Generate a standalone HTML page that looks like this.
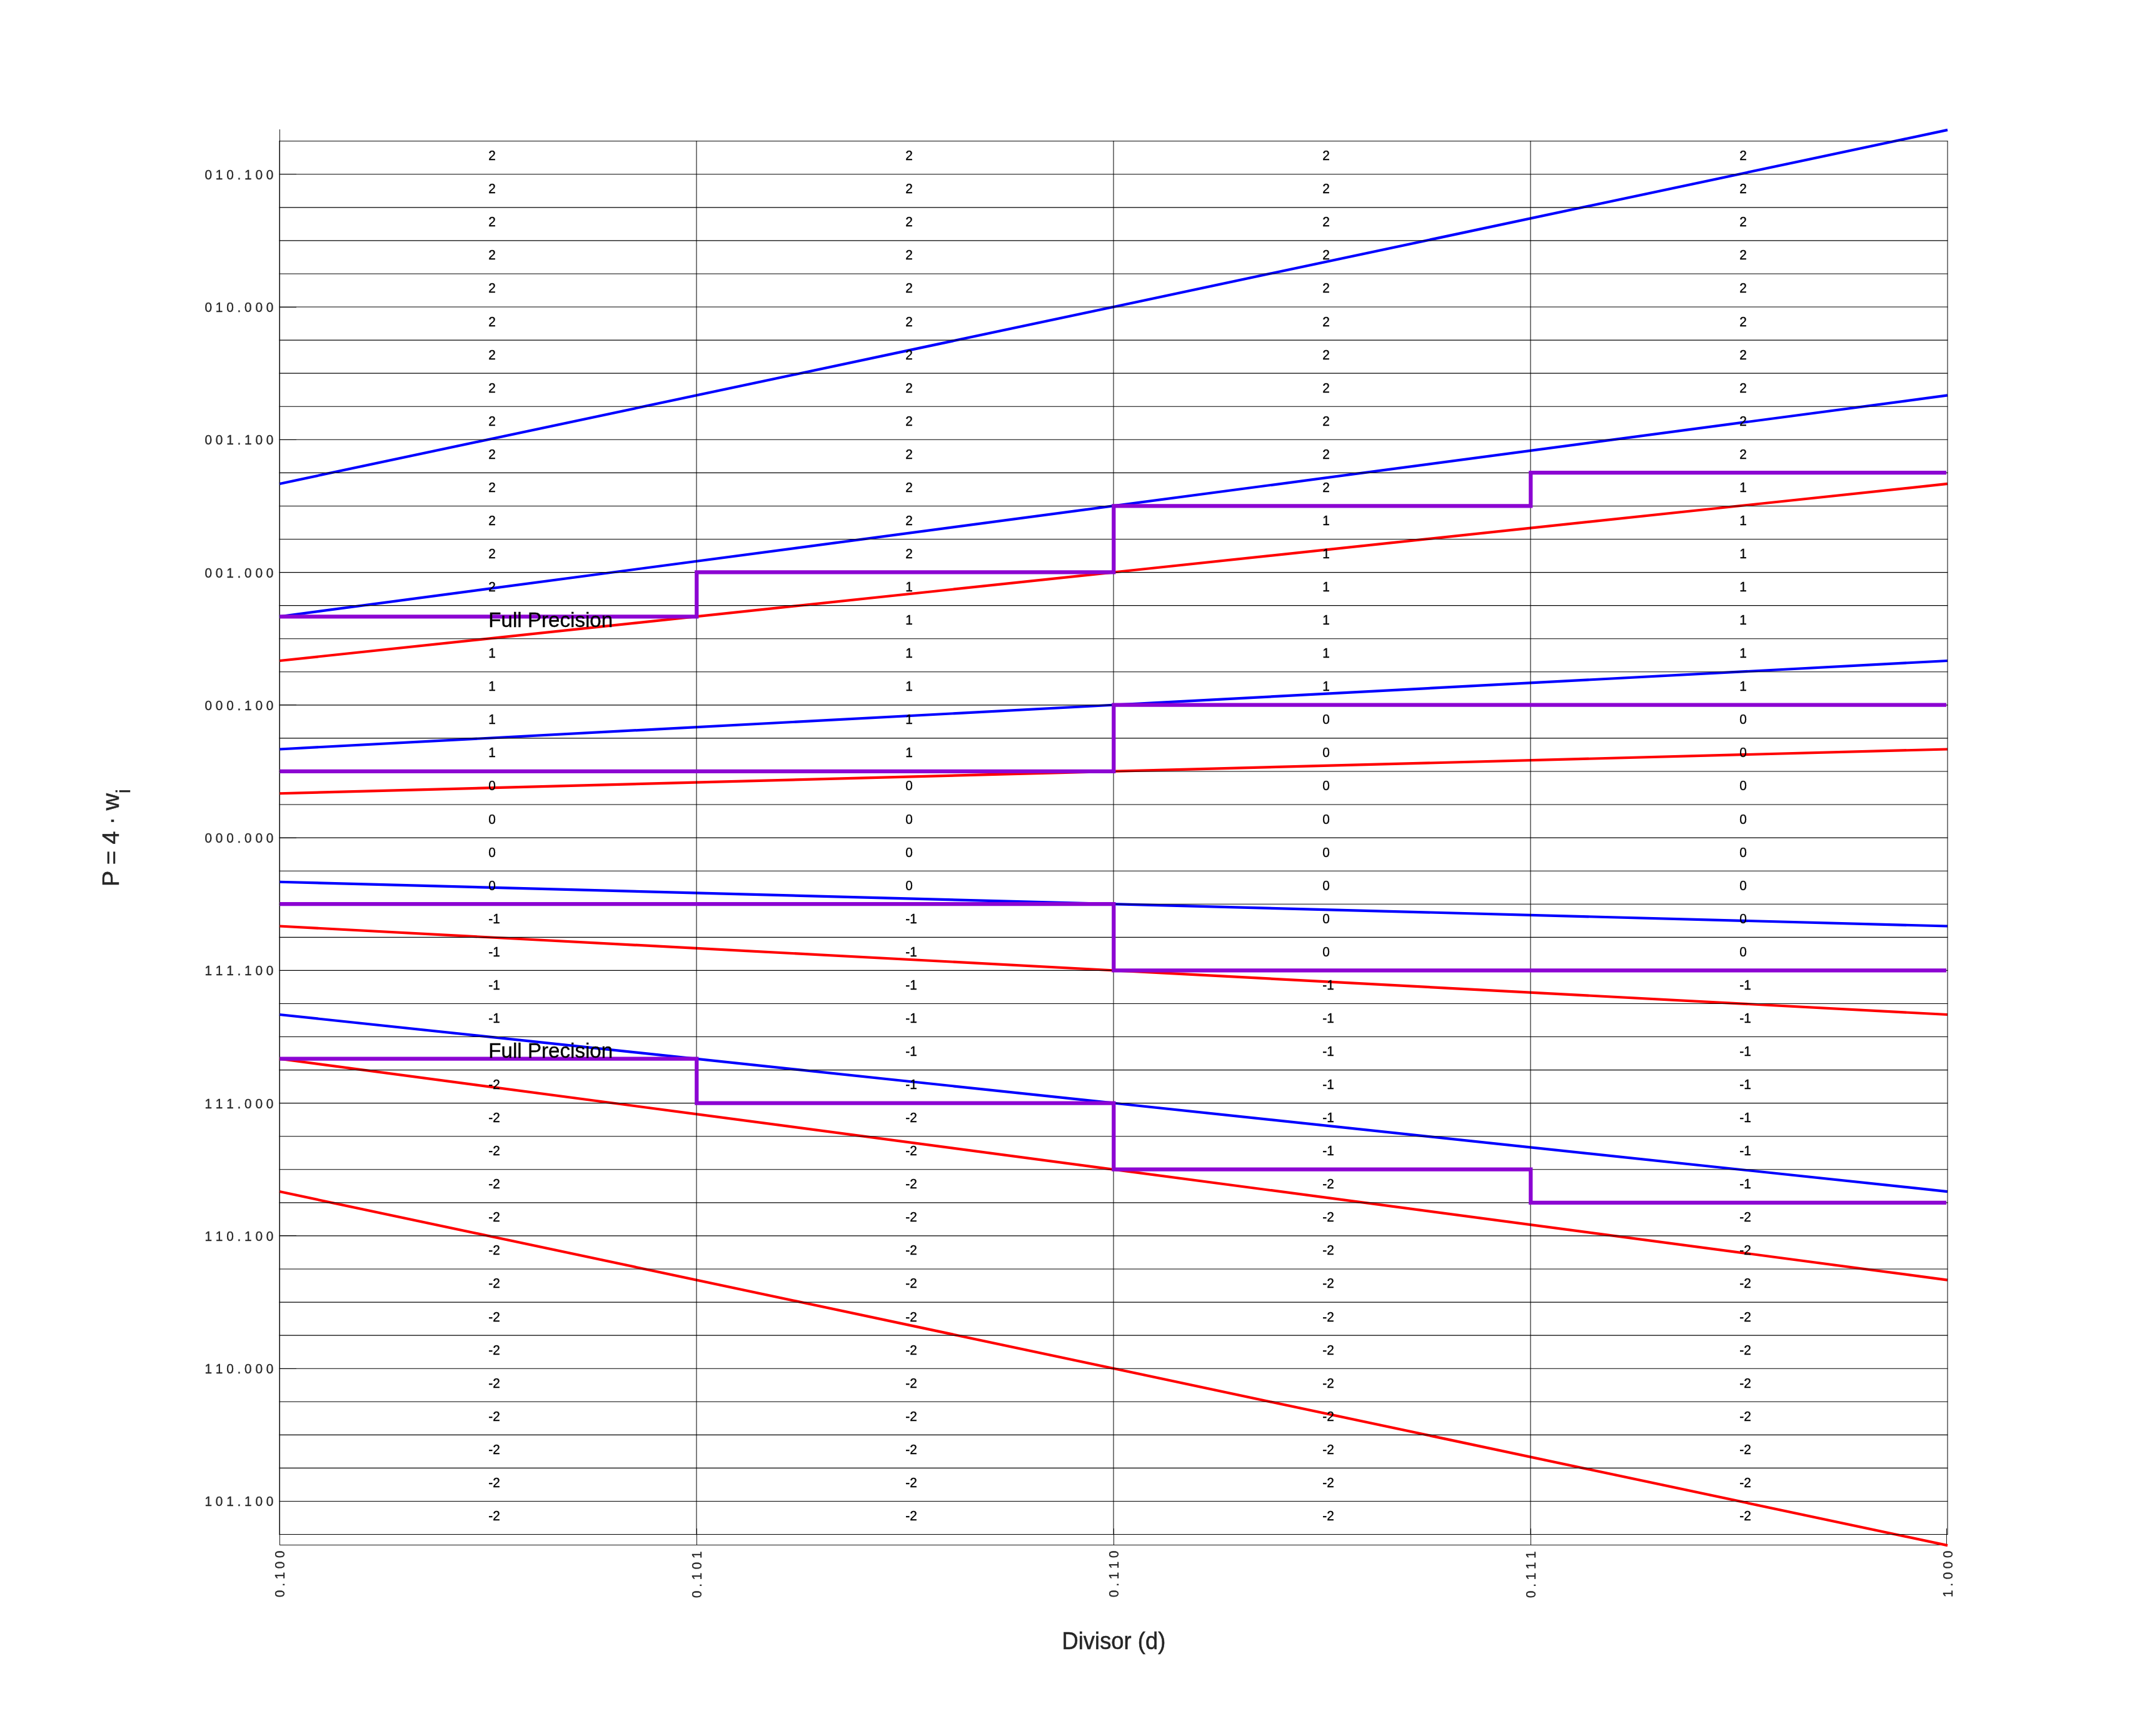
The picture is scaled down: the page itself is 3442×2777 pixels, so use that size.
<!DOCTYPE html>
<html lang="en"><head><meta charset="utf-8"><title>P-D diagram</title>
<style>html,body{margin:0;padding:0;background:#fff}svg{display:block;will-change:transform}text{font-family:"Liberation Sans",Arial,Helvetica,sans-serif}</style></head><body>
<svg width="3442" height="2777" viewBox="0 0 3442 2777">
<rect width="3442" height="2777" fill="#fff"/>
<g stroke="#1a1a1a" stroke-width="1" fill="none">
<line x1="447.5" y1="207" x2="447.5" y2="2472"/>
<line x1="447" y1="2471.5" x2="3114" y2="2471.5"/>
<line x1="447.5" y1="2445" x2="447.5" y2="2472"/>
<line x1="1114.5" y1="2445" x2="1114.5" y2="2472"/>
<line x1="1781.5" y1="2445" x2="1781.5" y2="2472"/>
<line x1="2448.5" y1="2445" x2="2448.5" y2="2472"/>
<line x1="3113.5" y1="2445" x2="3113.5" y2="2472"/>
<line x1="447" y1="2401.5" x2="474" y2="2401.5"/>
<line x1="447" y1="2189.5" x2="474" y2="2189.5"/>
<line x1="447" y1="1976.5" x2="474" y2="1976.5"/>
<line x1="447" y1="1764.5" x2="474" y2="1764.5"/>
<line x1="447" y1="1552.5" x2="474" y2="1552.5"/>
<line x1="447" y1="1340.5" x2="474" y2="1340.5"/>
<line x1="447" y1="1127.5" x2="474" y2="1127.5"/>
<line x1="447" y1="915.5" x2="474" y2="915.5"/>
<line x1="447" y1="703.5" x2="474" y2="703.5"/>
<line x1="447" y1="491.5" x2="474" y2="491.5"/>
<line x1="447" y1="278.5" x2="474" y2="278.5"/>
</g>
<g fill="none" stroke-width="4.17" stroke-linecap="butt">
<line x1="447.00" y1="1623.03" x2="3115.00" y2="1906.07" stroke="#0000ff"/>
<line x1="447.00" y1="1906.07" x2="3115.00" y2="2472.13" stroke="#ff0000"/>
<line x1="447.00" y1="1410.76" x2="3115.00" y2="1481.52" stroke="#0000ff"/>
<line x1="447.00" y1="1693.79" x2="3115.00" y2="2047.58" stroke="#ff0000"/>
<line x1="447.00" y1="1198.48" x2="3115.00" y2="1056.97" stroke="#0000ff"/>
<line x1="447.00" y1="1481.52" x2="3115.00" y2="1623.03" stroke="#ff0000"/>
<line x1="447.00" y1="986.21" x2="3115.00" y2="632.42" stroke="#0000ff"/>
<line x1="447.00" y1="1269.24" x2="3115.00" y2="1198.48" stroke="#ff0000"/>
<line x1="447.00" y1="773.93" x2="3115.00" y2="207.87" stroke="#0000ff"/>
<line x1="447.00" y1="1056.97" x2="3115.00" y2="773.93" stroke="#ff0000"/>
</g>
<g stroke="#000" stroke-width="1.12" fill="none">
<line x1="446.60" y1="2454.54" x2="3115.25" y2="2454.54"/>
<line x1="446.60" y1="2401.47" x2="3115.25" y2="2401.47"/>
<line x1="446.60" y1="2348.40" x2="3115.25" y2="2348.40"/>
<line x1="446.60" y1="2295.34" x2="3115.25" y2="2295.34"/>
<line x1="446.60" y1="2242.27" x2="3115.25" y2="2242.27"/>
<line x1="446.60" y1="2189.20" x2="3115.25" y2="2189.20"/>
<line x1="446.60" y1="2136.13" x2="3115.25" y2="2136.13"/>
<line x1="446.60" y1="2083.07" x2="3115.25" y2="2083.07"/>
<line x1="446.60" y1="2030.00" x2="3115.25" y2="2030.00"/>
<line x1="446.60" y1="1976.93" x2="3115.25" y2="1976.93"/>
<line x1="446.60" y1="1923.86" x2="3115.25" y2="1923.86"/>
<line x1="446.60" y1="1870.80" x2="3115.25" y2="1870.80"/>
<line x1="446.60" y1="1817.73" x2="3115.25" y2="1817.73"/>
<line x1="446.60" y1="1764.66" x2="3115.25" y2="1764.66"/>
<line x1="446.60" y1="1711.59" x2="3115.25" y2="1711.59"/>
<line x1="446.60" y1="1658.52" x2="3115.25" y2="1658.52"/>
<line x1="446.60" y1="1605.46" x2="3115.25" y2="1605.46"/>
<line x1="446.60" y1="1552.39" x2="3115.25" y2="1552.39"/>
<line x1="446.60" y1="1499.32" x2="3115.25" y2="1499.32"/>
<line x1="446.60" y1="1446.25" x2="3115.25" y2="1446.25"/>
<line x1="446.60" y1="1393.19" x2="3115.25" y2="1393.19"/>
<line x1="446.60" y1="1340.12" x2="3115.25" y2="1340.12"/>
<line x1="446.60" y1="1287.05" x2="3115.25" y2="1287.05"/>
<line x1="446.60" y1="1233.98" x2="3115.25" y2="1233.98"/>
<line x1="446.60" y1="1180.92" x2="3115.25" y2="1180.92"/>
<line x1="446.60" y1="1127.85" x2="3115.25" y2="1127.85"/>
<line x1="446.60" y1="1074.78" x2="3115.25" y2="1074.78"/>
<line x1="446.60" y1="1021.71" x2="3115.25" y2="1021.71"/>
<line x1="446.60" y1="968.65" x2="3115.25" y2="968.65"/>
<line x1="446.60" y1="915.58" x2="3115.25" y2="915.58"/>
<line x1="446.60" y1="862.51" x2="3115.25" y2="862.51"/>
<line x1="446.60" y1="809.44" x2="3115.25" y2="809.44"/>
<line x1="446.60" y1="756.38" x2="3115.25" y2="756.38"/>
<line x1="446.60" y1="703.31" x2="3115.25" y2="703.31"/>
<line x1="446.60" y1="650.24" x2="3115.25" y2="650.24"/>
<line x1="446.60" y1="597.17" x2="3115.25" y2="597.17"/>
<line x1="446.60" y1="544.11" x2="3115.25" y2="544.11"/>
<line x1="446.60" y1="491.04" x2="3115.25" y2="491.04"/>
<line x1="446.60" y1="437.97" x2="3115.25" y2="437.97"/>
<line x1="446.60" y1="384.90" x2="3115.25" y2="384.90"/>
<line x1="446.60" y1="331.84" x2="3115.25" y2="331.84"/>
<line x1="446.60" y1="278.77" x2="3115.25" y2="278.77"/>
<line x1="446.60" y1="225.70" x2="3115.25" y2="225.70"/>
<line x1="447.00" y1="225.15" x2="447.00" y2="2455.09" stroke-width="1.0"/>
<line x1="1114.00" y1="225.15" x2="1114.00" y2="2455.09" stroke-width="1.0"/>
<line x1="1781.00" y1="225.15" x2="1781.00" y2="2455.09" stroke-width="1.0"/>
<line x1="2448.00" y1="225.15" x2="2448.00" y2="2455.09" stroke-width="1.0"/>
<line x1="3115.00" y1="225.15" x2="3115.00" y2="2455.09" stroke-width="1.0"/>
</g>
<g fill="none" stroke="#8c05d2" stroke-width="6.25" stroke-linejoin="miter" stroke-linecap="butt">
<polyline points="447.50,986.48 1114.30,986.48 1114.30,915.45 1781.30,915.45 1781.30,809.31 2448.30,809.31 2448.30,756.24 3113.05,756.24"/>
<polyline points="447.50,1233.86 1781.30,1233.86 1781.30,1127.72 3113.05,1127.72"/>
<polyline points="447.50,1446.14 1781.30,1446.14 1781.30,1552.28 3113.05,1552.28"/>
<polyline points="447.50,1693.52 1114.30,1693.52 1114.30,1764.55 1781.30,1764.55 1781.30,1870.69 2448.30,1870.69 2448.30,1923.76 3113.05,1923.76"/>
</g>
<g font-size="20.83" fill="#000" stroke="#000" stroke-width="0.35">
<text transform="translate(781.20,256.19) scale(1,1.058)">2</text>
<text transform="translate(781.20,309.25) scale(1,1.058)">2</text>
<text transform="translate(781.20,362.32) scale(1,1.058)">2</text>
<text transform="translate(781.20,415.39) scale(1,1.058)">2</text>
<text transform="translate(781.20,468.46) scale(1,1.058)">2</text>
<text transform="translate(781.20,521.52) scale(1,1.058)">2</text>
<text transform="translate(781.20,574.59) scale(1,1.058)">2</text>
<text transform="translate(781.20,627.66) scale(1,1.058)">2</text>
<text transform="translate(781.20,680.73) scale(1,1.058)">2</text>
<text transform="translate(781.20,733.79) scale(1,1.058)">2</text>
<text transform="translate(781.20,786.86) scale(1,1.058)">2</text>
<text transform="translate(781.20,839.93) scale(1,1.058)">2</text>
<text transform="translate(781.20,893.00) scale(1,1.058)">2</text>
<text transform="translate(781.20,946.06) scale(1,1.058)">2</text>
<text transform="translate(781.20,1052.20) scale(1,1.058)">1</text>
<text transform="translate(781.20,1105.27) scale(1,1.058)">1</text>
<text transform="translate(781.20,1158.33) scale(1,1.058)">1</text>
<text transform="translate(781.20,1211.40) scale(1,1.058)">1</text>
<text transform="translate(781.20,1264.47) scale(1,1.058)">0</text>
<text transform="translate(781.20,1317.54) scale(1,1.058)">0</text>
<text transform="translate(781.20,1370.60) scale(1,1.058)">0</text>
<text transform="translate(781.20,1423.67) scale(1,1.058)">0</text>
<text transform="translate(781.20,1476.74) scale(1,1.058)">-1</text>
<text transform="translate(781.20,1529.81) scale(1,1.058)">-1</text>
<text transform="translate(781.20,1582.87) scale(1,1.058)">-1</text>
<text transform="translate(781.20,1635.94) scale(1,1.058)">-1</text>
<text transform="translate(781.20,1742.08) scale(1,1.058)">-2</text>
<text transform="translate(781.20,1795.14) scale(1,1.058)">-2</text>
<text transform="translate(781.20,1848.21) scale(1,1.058)">-2</text>
<text transform="translate(781.20,1901.28) scale(1,1.058)">-2</text>
<text transform="translate(781.20,1954.35) scale(1,1.058)">-2</text>
<text transform="translate(781.20,2007.41) scale(1,1.058)">-2</text>
<text transform="translate(781.20,2060.48) scale(1,1.058)">-2</text>
<text transform="translate(781.20,2113.55) scale(1,1.058)">-2</text>
<text transform="translate(781.20,2166.62) scale(1,1.058)">-2</text>
<text transform="translate(781.20,2219.68) scale(1,1.058)">-2</text>
<text transform="translate(781.20,2272.75) scale(1,1.058)">-2</text>
<text transform="translate(781.20,2325.82) scale(1,1.058)">-2</text>
<text transform="translate(781.20,2378.89) scale(1,1.058)">-2</text>
<text transform="translate(781.20,2431.95) scale(1,1.058)">-2</text>
<text transform="translate(1448.20,256.19) scale(1,1.058)">2</text>
<text transform="translate(1448.20,309.25) scale(1,1.058)">2</text>
<text transform="translate(1448.20,362.32) scale(1,1.058)">2</text>
<text transform="translate(1448.20,415.39) scale(1,1.058)">2</text>
<text transform="translate(1448.20,468.46) scale(1,1.058)">2</text>
<text transform="translate(1448.20,521.52) scale(1,1.058)">2</text>
<text transform="translate(1448.20,574.59) scale(1,1.058)">2</text>
<text transform="translate(1448.20,627.66) scale(1,1.058)">2</text>
<text transform="translate(1448.20,680.73) scale(1,1.058)">2</text>
<text transform="translate(1448.20,733.79) scale(1,1.058)">2</text>
<text transform="translate(1448.20,786.86) scale(1,1.058)">2</text>
<text transform="translate(1448.20,839.93) scale(1,1.058)">2</text>
<text transform="translate(1448.20,893.00) scale(1,1.058)">2</text>
<text transform="translate(1448.20,946.06) scale(1,1.058)">1</text>
<text transform="translate(1448.20,999.13) scale(1,1.058)">1</text>
<text transform="translate(1448.20,1052.20) scale(1,1.058)">1</text>
<text transform="translate(1448.20,1105.27) scale(1,1.058)">1</text>
<text transform="translate(1448.20,1158.33) scale(1,1.058)">1</text>
<text transform="translate(1448.20,1211.40) scale(1,1.058)">1</text>
<text transform="translate(1448.20,1264.47) scale(1,1.058)">0</text>
<text transform="translate(1448.20,1317.54) scale(1,1.058)">0</text>
<text transform="translate(1448.20,1370.60) scale(1,1.058)">0</text>
<text transform="translate(1448.20,1423.67) scale(1,1.058)">0</text>
<text transform="translate(1448.20,1476.74) scale(1,1.058)">-1</text>
<text transform="translate(1448.20,1529.81) scale(1,1.058)">-1</text>
<text transform="translate(1448.20,1582.87) scale(1,1.058)">-1</text>
<text transform="translate(1448.20,1635.94) scale(1,1.058)">-1</text>
<text transform="translate(1448.20,1689.01) scale(1,1.058)">-1</text>
<text transform="translate(1448.20,1742.08) scale(1,1.058)">-1</text>
<text transform="translate(1448.20,1795.14) scale(1,1.058)">-2</text>
<text transform="translate(1448.20,1848.21) scale(1,1.058)">-2</text>
<text transform="translate(1448.20,1901.28) scale(1,1.058)">-2</text>
<text transform="translate(1448.20,1954.35) scale(1,1.058)">-2</text>
<text transform="translate(1448.20,2007.41) scale(1,1.058)">-2</text>
<text transform="translate(1448.20,2060.48) scale(1,1.058)">-2</text>
<text transform="translate(1448.20,2113.55) scale(1,1.058)">-2</text>
<text transform="translate(1448.20,2166.62) scale(1,1.058)">-2</text>
<text transform="translate(1448.20,2219.68) scale(1,1.058)">-2</text>
<text transform="translate(1448.20,2272.75) scale(1,1.058)">-2</text>
<text transform="translate(1448.20,2325.82) scale(1,1.058)">-2</text>
<text transform="translate(1448.20,2378.89) scale(1,1.058)">-2</text>
<text transform="translate(1448.20,2431.95) scale(1,1.058)">-2</text>
<text transform="translate(2115.20,256.19) scale(1,1.058)">2</text>
<text transform="translate(2115.20,309.25) scale(1,1.058)">2</text>
<text transform="translate(2115.20,362.32) scale(1,1.058)">2</text>
<text transform="translate(2115.20,415.39) scale(1,1.058)">2</text>
<text transform="translate(2115.20,468.46) scale(1,1.058)">2</text>
<text transform="translate(2115.20,521.52) scale(1,1.058)">2</text>
<text transform="translate(2115.20,574.59) scale(1,1.058)">2</text>
<text transform="translate(2115.20,627.66) scale(1,1.058)">2</text>
<text transform="translate(2115.20,680.73) scale(1,1.058)">2</text>
<text transform="translate(2115.20,733.79) scale(1,1.058)">2</text>
<text transform="translate(2115.20,786.86) scale(1,1.058)">2</text>
<text transform="translate(2115.20,839.93) scale(1,1.058)">1</text>
<text transform="translate(2115.20,893.00) scale(1,1.058)">1</text>
<text transform="translate(2115.20,946.06) scale(1,1.058)">1</text>
<text transform="translate(2115.20,999.13) scale(1,1.058)">1</text>
<text transform="translate(2115.20,1052.20) scale(1,1.058)">1</text>
<text transform="translate(2115.20,1105.27) scale(1,1.058)">1</text>
<text transform="translate(2115.20,1158.33) scale(1,1.058)">0</text>
<text transform="translate(2115.20,1211.40) scale(1,1.058)">0</text>
<text transform="translate(2115.20,1264.47) scale(1,1.058)">0</text>
<text transform="translate(2115.20,1317.54) scale(1,1.058)">0</text>
<text transform="translate(2115.20,1370.60) scale(1,1.058)">0</text>
<text transform="translate(2115.20,1423.67) scale(1,1.058)">0</text>
<text transform="translate(2115.20,1476.74) scale(1,1.058)">0</text>
<text transform="translate(2115.20,1529.81) scale(1,1.058)">0</text>
<text transform="translate(2115.20,1582.87) scale(1,1.058)">-1</text>
<text transform="translate(2115.20,1635.94) scale(1,1.058)">-1</text>
<text transform="translate(2115.20,1689.01) scale(1,1.058)">-1</text>
<text transform="translate(2115.20,1742.08) scale(1,1.058)">-1</text>
<text transform="translate(2115.20,1795.14) scale(1,1.058)">-1</text>
<text transform="translate(2115.20,1848.21) scale(1,1.058)">-1</text>
<text transform="translate(2115.20,1901.28) scale(1,1.058)">-2</text>
<text transform="translate(2115.20,1954.35) scale(1,1.058)">-2</text>
<text transform="translate(2115.20,2007.41) scale(1,1.058)">-2</text>
<text transform="translate(2115.20,2060.48) scale(1,1.058)">-2</text>
<text transform="translate(2115.20,2113.55) scale(1,1.058)">-2</text>
<text transform="translate(2115.20,2166.62) scale(1,1.058)">-2</text>
<text transform="translate(2115.20,2219.68) scale(1,1.058)">-2</text>
<text transform="translate(2115.20,2272.75) scale(1,1.058)">-2</text>
<text transform="translate(2115.20,2325.82) scale(1,1.058)">-2</text>
<text transform="translate(2115.20,2378.89) scale(1,1.058)">-2</text>
<text transform="translate(2115.20,2431.95) scale(1,1.058)">-2</text>
<text transform="translate(2782.20,256.19) scale(1,1.058)">2</text>
<text transform="translate(2782.20,309.25) scale(1,1.058)">2</text>
<text transform="translate(2782.20,362.32) scale(1,1.058)">2</text>
<text transform="translate(2782.20,415.39) scale(1,1.058)">2</text>
<text transform="translate(2782.20,468.46) scale(1,1.058)">2</text>
<text transform="translate(2782.20,521.52) scale(1,1.058)">2</text>
<text transform="translate(2782.20,574.59) scale(1,1.058)">2</text>
<text transform="translate(2782.20,627.66) scale(1,1.058)">2</text>
<text transform="translate(2782.20,680.73) scale(1,1.058)">2</text>
<text transform="translate(2782.20,733.79) scale(1,1.058)">2</text>
<text transform="translate(2782.20,786.86) scale(1,1.058)">1</text>
<text transform="translate(2782.20,839.93) scale(1,1.058)">1</text>
<text transform="translate(2782.20,893.00) scale(1,1.058)">1</text>
<text transform="translate(2782.20,946.06) scale(1,1.058)">1</text>
<text transform="translate(2782.20,999.13) scale(1,1.058)">1</text>
<text transform="translate(2782.20,1052.20) scale(1,1.058)">1</text>
<text transform="translate(2782.20,1105.27) scale(1,1.058)">1</text>
<text transform="translate(2782.20,1158.33) scale(1,1.058)">0</text>
<text transform="translate(2782.20,1211.40) scale(1,1.058)">0</text>
<text transform="translate(2782.20,1264.47) scale(1,1.058)">0</text>
<text transform="translate(2782.20,1317.54) scale(1,1.058)">0</text>
<text transform="translate(2782.20,1370.60) scale(1,1.058)">0</text>
<text transform="translate(2782.20,1423.67) scale(1,1.058)">0</text>
<text transform="translate(2782.20,1476.74) scale(1,1.058)">0</text>
<text transform="translate(2782.20,1529.81) scale(1,1.058)">0</text>
<text transform="translate(2782.20,1582.87) scale(1,1.058)">-1</text>
<text transform="translate(2782.20,1635.94) scale(1,1.058)">-1</text>
<text transform="translate(2782.20,1689.01) scale(1,1.058)">-1</text>
<text transform="translate(2782.20,1742.08) scale(1,1.058)">-1</text>
<text transform="translate(2782.20,1795.14) scale(1,1.058)">-1</text>
<text transform="translate(2782.20,1848.21) scale(1,1.058)">-1</text>
<text transform="translate(2782.20,1901.28) scale(1,1.058)">-1</text>
<text transform="translate(2782.20,1954.35) scale(1,1.058)">-2</text>
<text transform="translate(2782.20,2007.41) scale(1,1.058)">-2</text>
<text transform="translate(2782.20,2060.48) scale(1,1.058)">-2</text>
<text transform="translate(2782.20,2113.55) scale(1,1.058)">-2</text>
<text transform="translate(2782.20,2166.62) scale(1,1.058)">-2</text>
<text transform="translate(2782.20,2219.68) scale(1,1.058)">-2</text>
<text transform="translate(2782.20,2272.75) scale(1,1.058)">-2</text>
<text transform="translate(2782.20,2325.82) scale(1,1.058)">-2</text>
<text transform="translate(2782.20,2378.89) scale(1,1.058)">-2</text>
<text transform="translate(2782.20,2431.95) scale(1,1.058)">-2</text>
</g>
<g font-size="33.15" fill="#000" stroke="#000" stroke-width="0.35">
<text x="781.3" y="1002.58">Full Precision</text>
<text x="781.3" y="1692.46">Full Precision</text>
</g>
<g font-size="20.83" fill="#262626" stroke="#262626" stroke-width="0.35" text-anchor="end">
<text transform="translate(437.4,286.77) scale(1,1.058)">0 1 0 . 1 0 0</text>
<text transform="translate(437.4,499.04) scale(1,1.058)">0 1 0 . 0 0 0</text>
<text transform="translate(437.4,711.31) scale(1,1.058)">0 0 1 . 1 0 0</text>
<text transform="translate(437.4,923.58) scale(1,1.058)">0 0 1 . 0 0 0</text>
<text transform="translate(437.4,1135.85) scale(1,1.058)">0 0 0 . 1 0 0</text>
<text transform="translate(437.4,1348.12) scale(1,1.058)">0 0 0 . 0 0 0</text>
<text transform="translate(437.4,1560.39) scale(1,1.058)">1 1 1 . 1 0 0</text>
<text transform="translate(437.4,1772.66) scale(1,1.058)">1 1 1 . 0 0 0</text>
<text transform="translate(437.4,1984.93) scale(1,1.058)">1 1 0 . 1 0 0</text>
<text transform="translate(437.4,2197.20) scale(1,1.058)">1 1 0 . 0 0 0</text>
<text transform="translate(437.4,2409.47) scale(1,1.058)">1 0 1 . 1 0 0</text>
</g>
<g font-size="20.83" fill="#262626" stroke="#262626" stroke-width="0.35" text-anchor="end">
<text transform="translate(455.10,2480.6) rotate(-90) scale(0.987,1.07)">0 . 1 0 0</text>
<text transform="translate(1122.10,2481.6) rotate(-90) scale(0.987,1.07)">0 . 1 0 1</text>
<text transform="translate(1789.10,2480.6) rotate(-90) scale(0.987,1.07)">0 . 1 1 0</text>
<text transform="translate(2456.10,2481.6) rotate(-90) scale(0.987,1.07)">0 . 1 1 1</text>
<text transform="translate(3123.10,2480.6) rotate(-90) scale(0.987,1.07)">1 . 0 0 0</text>
</g>
<text transform="translate(1781.4,2638) scale(1,1.09)" font-size="36.4" fill="#262626" stroke="#262626" stroke-width="0.5" text-anchor="middle">Divisor (d)</text>
<text transform="translate(190.1,1418) rotate(-90)" font-size="37.7" fill="#262626" stroke="#262626" stroke-width="0.5">P = 4 · w<tspan font-size="30.5" dy="18">i</tspan></text>
</svg></body></html>
